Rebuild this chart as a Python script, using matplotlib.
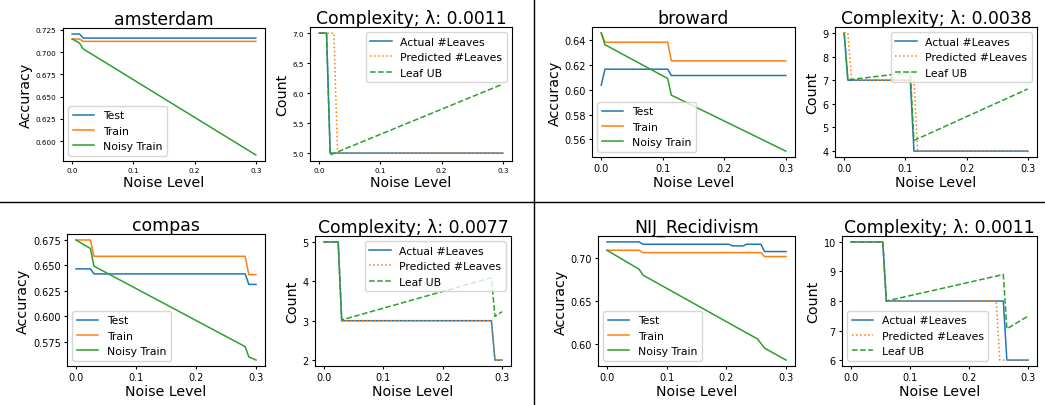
import matplotlib
matplotlib.use("Agg")
from matplotlib import pyplot as plt
from matplotlib.lines import Line2D
from matplotlib.ticker import MultipleLocator

# noise levels where each curve changes slope (step of 0.006)
ams_noise = [0.0, 0.006, 0.012, 0.018, 0.024, 0.030, 0.3]
ams_test = [0.7202, 0.7202, 0.7202, 0.7157, 0.7157, 0.7157, 0.7157]
ams_train = [0.7146, 0.7146, 0.7146, 0.7120, 0.7120, 0.7120, 0.7120]
ams_noisy = [0.7146, 0.7125, 0.7100, 0.7035, 0.7010, 0.6985, 0.5847]
ams_actual = [7, 7, 7, 5, 5, 5, 5]
ams_pred = [7, 7, 7, 7, 7, 5, 5]
ams_ub = [7, 7, 7, 4.97, 4.995, 5.02, 6.15]
ams_lam = "0.0011"

bro_noise = [0.0, 0.006, 0.012, 0.108, 0.114, 0.120, 0.3]
bro_test = [0.6037, 0.6166, 0.6166, 0.6166, 0.6115, 0.6115, 0.6115]
bro_train = [0.6459, 0.6384, 0.6384, 0.6384, 0.6233, 0.6233, 0.6233]
bro_noisy = [0.6459, 0.6363, 0.6348, 0.6091, 0.5956, 0.5942, 0.5505]
bro_actual = [9, 7, 7, 7, 4, 4, 4]
bro_pred = [9, 9, 7, 7, 7, 4, 4]
bro_ub = [9, 7, 7.03, 7.33, 4.45, 4.52, 6.63]
bro_lam = "0.0038"

com_noise = [0.0, 0.024, 0.030, 0.282, 0.288, 0.3]
com_test = [0.6467, 0.6467, 0.6417, 0.6417, 0.6314, 0.6314]
com_train = [0.6750, 0.6750, 0.6590, 0.6590, 0.6410, 0.6410]
com_noisy = [0.6750, 0.6667, 0.6493, 0.5703, 0.5603, 0.5572]
com_actual = [5, 5, 3, 3, 2, 2]
com_pred = [5, 5, 3, 3, 2, 2]
com_ub = [5, 5, 3.02, 4.09, 3.11, 3.23]
com_lam = "0.0077"

nij_noise = [0.0, 0.054, 0.060, 0.204, 0.210, 0.228, 0.234, 0.246, 0.252, 0.258, 0.264, 0.3]
nij_test = [0.7186, 0.7186, 0.7159, 0.7159, 0.7140, 0.7140, 0.7159, 0.7159, 0.7159, 0.7159, 0.7074, 0.7074]
nij_train = [0.7089, 0.7089, 0.7062, 0.7062, 0.7062, 0.7062, 0.7062, 0.7062, 0.7062, 0.7062, 0.7016, 0.7016]
nij_noisy = [0.7089, 0.6868, 0.6802, 0.6245, 0.6222, 0.6152, 0.6129, 0.6083, 0.6060, 0.6008, 0.5953, 0.5814]
nij_actual = [10, 10, 8, 8, 8, 8, 8, 8, 8, 8, 6, 6]
nij_pred = [10, 10, 8, 8, 8, 8, 8, 8, 6, 6, 6, 6]
nij_ub = [10, 10, 8.0, 8.65, 8.68, 8.76, 8.79, 8.84, 8.87, 8.9, 7.06, 7.49]
nij_lam = "0.0011"

W, H = 1045, 406
fig = plt.figure(figsize=(W / 100, H / 100), dpi=100)
LW = 1.1


def box(l, t, r, b):
    return [l / W, 1 - b / H, (r - l) / W, (b - t) / H]


def style(ax, tick_fs, ystep):
    ax.xaxis.set_major_locator(MultipleLocator(0.1))
    if ystep:
        ax.yaxis.set_major_locator(MultipleLocator(ystep))
    ax.set_xlabel("Noise Level", fontsize=10.2, labelpad=1)
    ax.tick_params(labelsize=tick_fs, length=2.5, pad=2)


def acc_panel(rect, name, x, test, train, noisy, tick_fs, ystep=None, loc="lower left"):
    ax = fig.add_axes(box(*rect))
    ax.plot(x, test, color="C0", lw=LW, label="Test")
    ax.plot(x, train, color="C1", lw=LW, label="Train")
    ax.plot(x, noisy, color="C2", lw=LW, label="Noisy Train")
    ax.set_title(name, fontsize=12.4, pad=3)
    ax.set_ylabel("Accuracy", fontsize=10.3, labelpad=2)
    style(ax, tick_fs, ystep)
    ax.legend(loc=loc, fontsize=7.8)
    return ax


def cx_panel(rect, lam, x, actual, pred, ub, tick_fs, ystep=None, loc="upper right"):
    ax = fig.add_axes(box(*rect))
    ax.plot(x, actual, color="C0", lw=LW, ls="-", label="Actual #Leaves")
    ax.plot(x, pred, color="C1", lw=LW, ls=":", label="Predicted #Leaves")
    ax.plot(x, ub, color="C2", lw=LW, ls="--", label="Leaf UB")
    ax.set_title("Complexity; λ: " + lam, fontsize=12.4, pad=3)
    ax.set_ylabel("Count", fontsize=10.3, labelpad=2)
    style(ax, tick_fs, ystep)
    ax.legend(loc=loc, fontsize=7.8)
    return ax


acc_panel((63, 29, 265, 162), "amsterdam", ams_noise, ams_test, ams_train, ams_noisy, 5.2, 0.025)
cx_panel((310, 28, 512, 162), ams_lam, ams_noise, ams_actual, ams_pred, ams_ub, 5.2, 0.5)

acc_panel((592, 28, 795, 158), "broward", bro_noise, bro_test, bro_train, bro_noisy, 7.0)
cx_panel((835, 28, 1037, 158), bro_lam, bro_noise, bro_actual, bro_pred, bro_ub, 7.0, 1)

acc_panel((67, 235, 265, 367), "compas", com_noise, com_test, com_train, com_noisy, 7.0)
cx_panel((315, 237, 511, 367), com_lam, com_noise, com_actual, com_pred, com_ub, 7.0, 1)

acc_panel((598, 237, 795, 367), "NIJ_Recidivism", nij_noise, nij_test, nij_train, nij_noisy, 7.0)
cx_panel((842, 237, 1037, 367), nij_lam, nij_noise, nij_actual, nij_pred, nij_ub, 7.0, 1, loc="lower left")

# separators between the four datasets
fig.add_artist(Line2D([534 / W, 534 / W], [0, 1], color="black", lw=1.0))
fig.add_artist(Line2D([0, 1], [1 - 203 / H, 1 - 203 / H], color="black", lw=1.0))

fig.savefig("out.png", dpi=100)
